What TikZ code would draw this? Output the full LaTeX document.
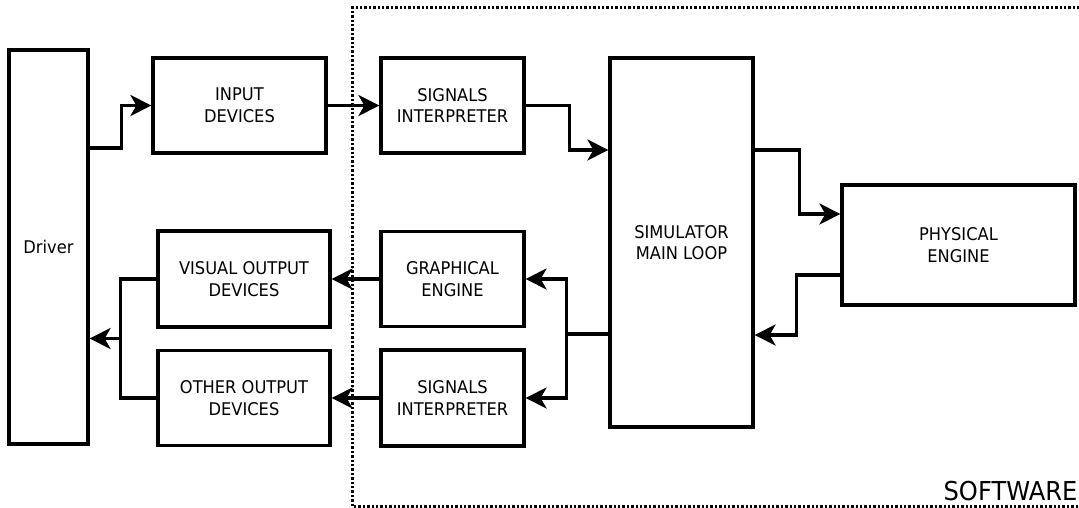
\documentclass[tikz,border=0pt]{standalone}
\usepackage{fontspec}
\setmainfont{DejaVu Sans}[FakeStretch=0.93]
\usetikzlibrary{arrows.meta,positioning,calc}

\begin{document}
\begin{tikzpicture}[x=1pt, y=-1pt,
  every node/.style={font=\fontsize{17.5}{21.7}\selectfont, align=center},
  block/.style={draw, line width=3.2pt, inner sep=0pt},
  link/.style={line width=3.2pt},
  arr/.style={line width=3.2pt, -{Stealth[length=21pt, width=21pt, inset=6pt]}}]
\useasboundingbox (0,0) rectangle (1079,508);
% software boundary
\draw[line width=3pt, dash pattern=on 2.4pt off 2pt] (1084,8) -- (352,8) -- (352,506) -- (1084,506);
\node[font=\fontsize{26}{30}\selectfont, anchor=base east] (sw) at (1081,500) {SOFTWARE};
% blocks
\node[block, minimum width=79, minimum height=394] (drv) at (48.5,247) {Driver};
\node[block, minimum width=173, minimum height=95] (inp) at (239.5,105.5) {INPUT\\DEVICES};
\node[block, minimum width=143, minimum height=95] (sig1) at (452.5,105.5) {SIGNALS\\INTERPRETER};
\node[block, minimum width=143, minimum height=369] (loop) at (681.5,242.5) {SIMULATOR\\MAIN LOOP};
\node[block, minimum width=233, minimum height=120] (phys) at (958.5,245) {PHYSICAL\\ENGINE};
\node[block, minimum width=143, minimum height=95] (gfx) at (452.5,279) {GRAPHICAL\\ENGINE};
\node[block, minimum width=143, minimum height=96] (sig2) at (452.5,398) {SIGNALS\\INTERPRETER};
\node[block, minimum width=172, minimum height=96] (vis) at (244,279) {VISUAL OUTPUT\\DEVICES};
\node[block, minimum width=172, minimum height=95] (oth) at (244,398) {OTHER OUTPUT\\DEVICES};
% input side
\draw[arr] (drv.east |- 0,148) -- ++(32,0) |- (inp.west);
\draw[arr] (inp) -- (sig1);
\draw[arr] (sig1.east) -- ++(44,0) |- (loop.west |- 0,150);
% physics loop
\draw[arr] (loop.east |- 0,150) -- ++(45,0) |- (phys.west |- 0,214);
\draw[arr] (phys.west |- 0,275) -- ++(-44,0) |- (loop.east |- 0,335);
% output side
\draw[arr] (loop.west |- 0,334) -- ++(-42,0) |- (gfx.east);
\draw[arr] (loop.west |- 0,334) -- ++(-42,0) |- (sig2.east);
\draw[arr] (gfx) -- (vis);
\draw[arr] (sig2) -- (oth);
\draw[link] (vis.west) -- ++(-36,0) |- (oth.west);
\coordinate (join) at ($(vis.west)!0.5!(oth.west) + (-36,0)$);
\draw[arr] (join) -- (drv.east |- join);
\end{tikzpicture}
\end{document}
